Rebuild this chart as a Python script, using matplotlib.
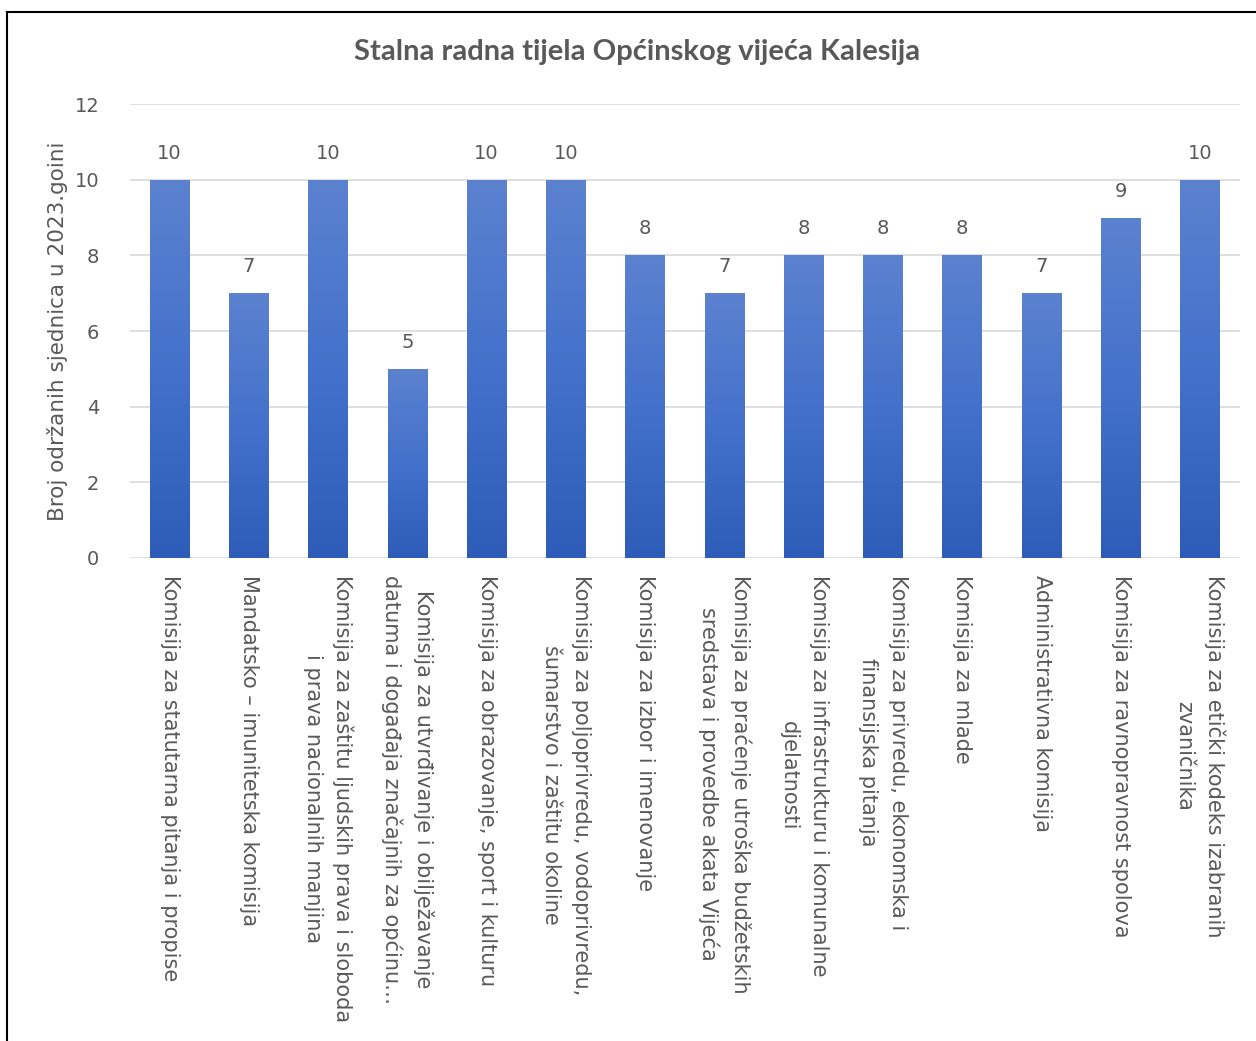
import matplotlib
matplotlib.use("Agg")
import matplotlib.pyplot as plt
import numpy as np
from matplotlib.colors import LinearSegmentedColormap
from matplotlib.lines import Line2D

categories = [
    "Komisija za statutarna pitanja i propise",
    "Mandatsko – imunitetska komisija",
    "Komisija za zaštitu ljudskih prava i sloboda\ni prava nacionalnih manjina",
    "Komisija za utvrđivanje i obilježavanje\ndatuma i događaja značajnih za općinu…",
    "Komisija za obrazovanje, sport i kulturu",
    "Komisija za poljoprivredu, vodoprivredu,\nšumarstvo i zaštitu okoline",
    "Komisija za izbor i imenovanje",
    "Komisija za praćenje utroška budžetskih\nsredstava i provedbe akata Vijeća",
    "Komisija za infrastrukturu i komunalne\ndjelatnosti",
    "Komisija za privredu, ekonomska i\nfinansijska pitanja",
    "Komisija za mlade",
    "Administrativna komisija",
    "Komisija za ravnopravnost spolova",
    "Komisija za etički kodeks izabranih\nzvaničnika",
]
values = [10, 7, 10, 5, 10, 10, 8, 7, 8, 8, 8, 7, 9, 10]
yticks = [0, 2, 4, 6, 8, 10, 12]

title = "Stalna radna tijela Općinskog vijeća Kalesija"
ylabel = "Broj održanih sjednica u 2023.goini"

plt.rcParams['font.family'] = ['DejaVu Sans']
gray = "#595959"

fig = plt.figure(figsize=(12.56, 10.41), dpi=100)
ax = fig.add_axes([0.1035, 0.464, 0.8835, 0.436])

x = np.arange(len(values))
bars = ax.bar(x, values, width=0.5, color="none", edgecolor="none", zorder=3)

cmap = LinearSegmentedColormap.from_list("g", ["#2D5DB8", "#4371CB", "#5B82CF"])
grad = np.linspace(0, 1, 256).reshape(-1, 1)
for b in bars:
    x0 = b.get_x(); w = b.get_width(); h = b.get_height()
    im = ax.imshow(grad, cmap=cmap, origin="lower", aspect="auto",
                   extent=[x0, x0 + w, 0, h], zorder=3, interpolation="bilinear")
    im.set_clip_path(b)

for xi, v in zip(x, values):
    ax.text(xi, v + 0.45, str(v), ha="center", va="bottom", fontsize=14, color=gray)

ax.set_xlim(-0.5, len(values) - 0.5)
ax.set_ylim(0, 12)
ax.set_yticks(yticks)
ax.set_yticklabels([str(t) for t in yticks], fontsize=14, color=gray)
ax.set_xticks(x)
ax.set_xticklabels(categories, rotation=-90, fontsize=15, color=gray,
                   ha="center", va="top", multialignment="center", linespacing=1.6)
ax.tick_params(axis="both", length=0)
ax.tick_params(axis="y", pad=22)
ax.tick_params(axis="x", pad=12)
ax.grid(axis="y", color="#D9D9D9", linewidth=1.2, zorder=0)
ax.set_axisbelow(True)
for s in ax.spines.values():
    s.set_visible(False)

ax.set_ylabel(ylabel, fontsize=15.5, color=gray, labelpad=5)
fig.text(0.507, 0.950, title, ha="center", va="center", fontsize=21,
         fontweight="bold", color=gray, family=["Lato", "DejaVu Sans"])

fig.add_artist(Line2D([7/1256, 7/1256], [0, 1 - 12/1041], color="black", linewidth=1.5))
fig.add_artist(Line2D([7/1256, 1], [1 - 12/1041, 1 - 12/1041], color="black", linewidth=1.5))

fig.savefig("out.png", dpi=100, facecolor="white")
